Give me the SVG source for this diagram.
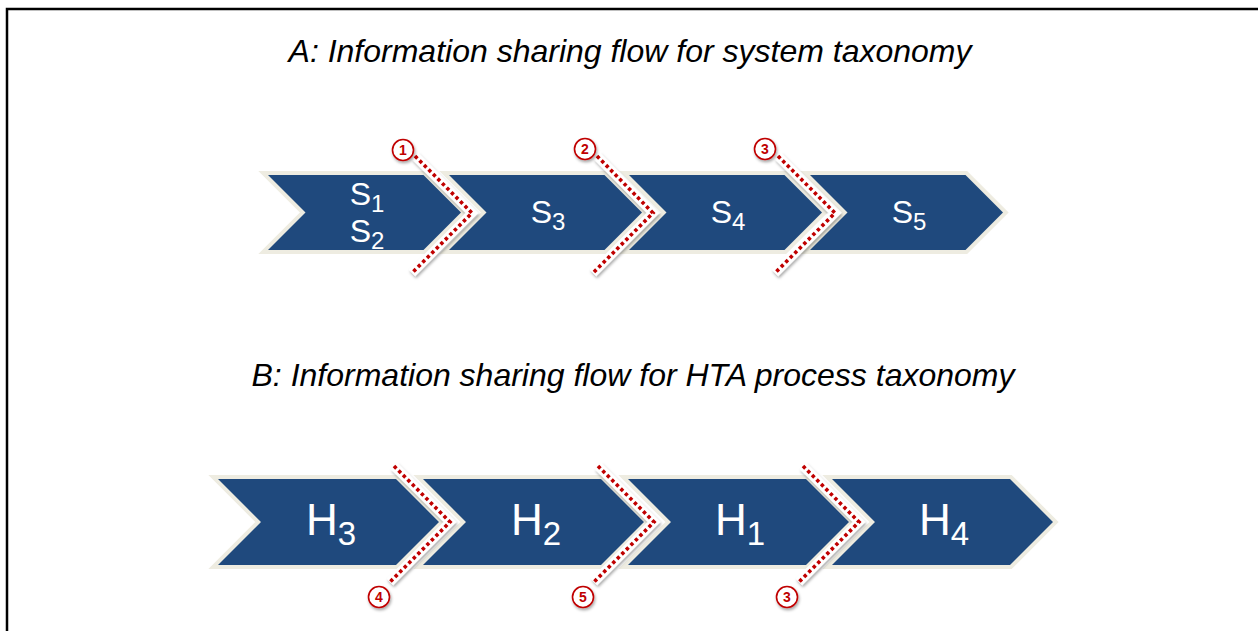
<svg xmlns="http://www.w3.org/2000/svg" width="1258" height="631" viewBox="0 0 1258 631">
<defs>
<filter id="sh" x="-30%" y="-30%" width="160%" height="160%">
<feDropShadow dx="1" dy="2" stdDeviation="1.5" flood-color="#000" flood-opacity="0.35"/>
</filter>
<style>
.chev{fill:#1F497D;stroke:#EEECE1;stroke-width:8;paint-order:stroke;stroke-linejoin:miter;stroke-miterlimit:4}
.title{font-family:"Liberation Sans",Arial,sans-serif;font-style:italic;font-size:32px;fill:#000;text-anchor:middle}
.lblA{font-family:"Liberation Sans",Arial,sans-serif;font-size:32px;fill:#fff;text-anchor:middle}
.lblB{font-family:"Liberation Sans",Arial,sans-serif;font-size:44px;fill:#fff;text-anchor:middle}
.subA{font-size:24px}
.subB{font-size:33px}
.halo{fill:none;stroke:#fff;stroke-width:9;stroke-linejoin:miter;filter:url(#sh)}
.dots{fill:none;stroke:#C00000;stroke-width:3.6;stroke-dasharray:3.4 3;stroke-linejoin:miter}
.circ{fill:#fff;stroke:#C00000;stroke-width:1.6;filter:url(#sh)}
.num{font-family:"Liberation Sans",Arial,sans-serif;font-weight:bold;font-size:14px;fill:#C00000;text-anchor:middle}
.frame{fill:none;stroke:#000;stroke-width:2.5}
</style>
</defs>
<rect width="1258" height="631" fill="#fff"/>
<path class="frame" d="M7,631 V9 H1258"/>

<text class="title" x="630" y="62">A: Information sharing flow for system taxonomy</text>
<text class="title" x="633" y="386">B: Information sharing flow for HTA process taxonomy</text>

<!-- Row A -->
<g id="nodeS12">
<polygon class="chev" points="268,175 423.5,175 461,212.5 423.5,250 268,250 305.5,212.5"/>
<text class="lblA" x="367" y="205">S<tspan class="subA" dy="7">1</tspan></text>
<text class="lblA" x="367" y="242" dy="0">S<tspan class="subA" dy="7">2</tspan></text>
</g>
<g id="nodeS3">
<polygon class="chev" points="449,175 604.5,175 642,212.5 604.5,250 449,250 486.5,212.5"/>
<text class="lblA" x="548" y="223">S<tspan class="subA" dy="7">3</tspan></text>
</g>
<g id="nodeS4">
<polygon class="chev" points="629,175 784.5,175 822,212.5 784.5,250 629,250 666.5,212.5"/>
<text class="lblA" x="728" y="223">S<tspan class="subA" dy="7">4</tspan></text>
</g>
<g id="nodeS5">
<polygon class="chev" points="810,175 965.5,175 1003,212.5 965.5,250 810,250 847.5,212.5"/>
<text class="lblA" x="909" y="223">S<tspan class="subA" dy="7">5</tspan></text>
</g>

<!-- Row B -->
<g id="nodeH3">
<polygon class="chev" points="218,479 396,479 439,522 396,565 218,565 261,522"/>
<text class="lblB" x="331" y="535">H<tspan class="subB" dy="10">3</tspan></text>
</g>
<g id="nodeH2">
<polygon class="chev" points="423,479 601,479 644,522 601,565 423,565 466,522"/>
<text class="lblB" x="536" y="535">H<tspan class="subB" dy="10">2</tspan></text>
</g>
<g id="nodeH1">
<polygon class="chev" points="628,479 806,479 849,522 806,565 628,565 671,522"/>
<text class="lblB" x="740" y="535">H<tspan class="subB" dy="10">1</tspan></text>
</g>
<g id="nodeH4">
<polygon class="chev" points="832,479 1010,479 1053,522 1010,565 832,565 875,522"/>
<text class="lblB" x="944" y="535">H<tspan class="subB" dy="10">4</tspan></text>
</g>

<!-- Connectors: dotted boundaries -->
<g id="connectors">
<polyline class="halo" points="415,156 472,213 412,273"/>
<polyline class="dots" points="415,156 472,213 412,273"/>
<polyline class="halo" points="597,156 653,213 593,273"/>
<polyline class="dots" points="597,156 653,213 593,273"/>
<polyline class="halo" points="778,156 835,213 775,273"/>
<polyline class="dots" points="778,156 835,213 775,273"/>
<polyline class="halo" points="394,466 450,522 390,582"/>
<polyline class="dots" points="394,466 450,522 390,582"/>
<polyline class="halo" points="598,466 654,522 594,582"/>
<polyline class="dots" points="598,466 654,522 594,582"/>
<polyline class="halo" points="803,466 859,522 799,582"/>
<polyline class="dots" points="803,466 859,522 799,582"/>
</g>

<g id="marker1"><circle class="circ" cx="403" cy="150" r="10.5"/><text class="num" x="403" y="155">1</text></g>
<g id="marker2"><circle class="circ" cx="585" cy="149" r="10.5"/><text class="num" x="585" y="154">2</text></g>
<g id="marker3a"><circle class="circ" cx="765" cy="149" r="10.5"/><text class="num" x="765" y="154">3</text></g>
<g id="marker4"><circle class="circ" cx="379" cy="597" r="10.5"/><text class="num" x="379" y="602">4</text></g>
<g id="marker5"><circle class="circ" cx="583" cy="597" r="10.5"/><text class="num" x="583" y="602">5</text></g>
<g id="marker3b"><circle class="circ" cx="787" cy="597" r="10.5"/><text class="num" x="787" y="602">3</text></g>
</svg>
